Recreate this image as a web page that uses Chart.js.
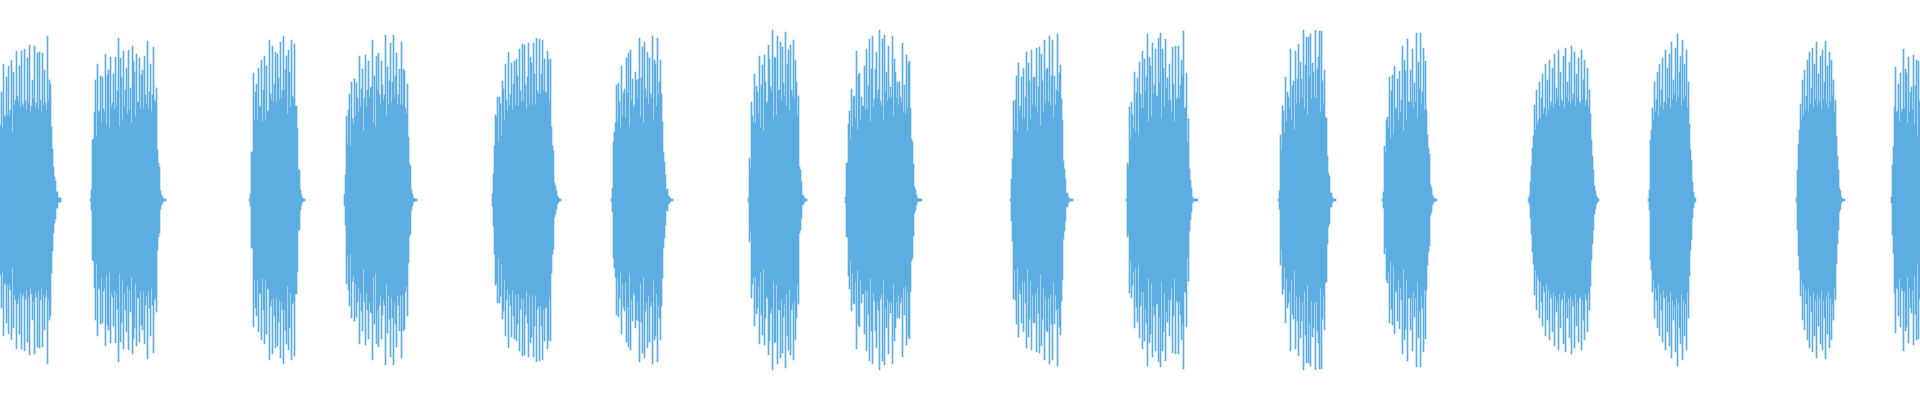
<!DOCTYPE html>
<html>
<head>
<meta charset="utf-8">
<title>Waveform</title>
<script src="https://cdn.jsdelivr.net/npm/chart.js@4.4.1/dist/chart.umd.min.js"></script>
<style>
  html, body { margin: 0; padding: 0; background: #ffffff; }
  #wrap { width: 1920px; height: 400px; position: relative; }
</style>
</head>
<body>
<div id="wrap"><canvas id="waveChart"></canvas></div>
<script>
// one amplitude per pixel column, the bars are drawn symmetric around zero
const totalColumns = 1920;

// first column of each burst
const burstStarts = [0, 90, 249, 344, 492, 611, 748, 845, 1010, 1126, 1278, 1382, 1528, 1648, 1796, 1891];

const burst01 = [75,108,72,136,84,83,123,85,134,84,90,140,67,128,95,100,149,104,98,134,92,149,96,93,151,99,90,142,97,155,88,94,120,101,154,92,97,147,90,148,100,88,147,95,130,97,90,164,100,120,116,73,51,33,23,19,8,8,2,2,2];
const burst02 = [1,10,60,61,88,120,64,136,88,89,124,78,123,91,87,146,75,125,130,72,143,93,97,126,90,143,94,109,162,73,142,123,79,149,93,110,132,86,150,90,112,77,154,139,128,83,146,98,97,142,91,125,130,91,144,105,96,159,90,108,136,88,105,153,100,97,112,50,37,33,9,5,3,1,1,1];
const burst03 = [1,6,48,48,127,80,108,116,80,132,94,92,140,78,110,144,80,134,88,89,160,106,100,154,98,116,148,98,146,122,100,158,102,110,164,110,130,144,86,150,128,93,160,104,102,156,94,94,72,30,30,10,5,2,1,1];
const burst04 = [6,25,84,56,90,106,54,118,81,76,121,84,117,102,88,144,93,111,131,69,102,145,93,110,139,102,112,113,160,77,124,73,144,110,147,105,96,139,115,99,105,165,84,133,95,119,157,97,118,165,102,124,147,95,105,131,95,158,94,131,129,92,86,116,63,36,34,10,6,2,1,1,1];
const burst05 = [6,26,54,85,82,103,58,103,96,64,119,111,80,136,100,89,148,94,105,137,90,116,139,94,141,124,94,151,109,98,156,98,155,115,91,123,157,95,143,137,95,157,126,96,162,109,106,161,106,126,160,110,141,108,107,149,140,97,141,73,54,49,17,14,9,4,2,1,1];
const burst06 = [1,12,58,68,77,115,78,117,98,72,134,83,107,111,82,142,107,147,73,150,99,121,92,95,128,120,102,121,162,83,122,153,77,158,111,102,148,95,142,106,102,164,80,140,136,94,162,106,118,140,106,78,48,38,25,10,11,4,3,1,1,1];
const burst07 = [2,42,31,98,84,77,126,77,114,108,86,144,72,115,135,69,145,118,96,98,155,141,113,108,170,81,143,142,85,164,110,110,158,99,153,117,103,168,94,136,150,89,155,110,104,160,102,140,118,84,104,33,30,18,5,4,2,1,1];
const burst08 = [3,37,37,76,89,61,111,73,103,104,81,149,70,125,127,80,103,94,94,134,90,151,90,114,161,78,131,164,93,101,131,148,102,110,170,99,94,161,79,165,108,128,99,154,102,113,102,164,84,141,128,102,118,95,118,103,97,157,88,115,86,145,92,137,139,92,61,58,36,13,10,5,2,1,1,1,1];
const burst09 = [1,21,41,99,70,100,124,68,137,89,94,123,81,132,81,103,148,69,137,119,80,150,95,122,123,93,152,87,113,153,74,146,119,88,160,97,130,132,98,164,94,124,160,82,124,95,110,166,108,127,135,101,80,39,31,21,6,7,3,1,1,1,1];
const burst10 = [1,37,33,93,61,98,85,71,128,68,107,122,65,138,106,92,149,92,141,109,123,166,78,143,134,83,157,106,115,151,104,103,162,117,167,81,151,132,93,161,112,122,99,136,100,87,153,116,78,154,100,102,154,101,115,140,124,169,92,92,127,58,81,31,20,12,3,1,1,1,1,1];
const burst11 = [1,9,65,49,94,89,67,123,78,108,103,91,151,80,114,119,70,149,96,121,156,96,138,121,102,170,91,135,163,85,163,123,166,101,137,128,102,170,102,131,143,169,88,169,119,96,130,82,82,44,27,24,7,7,3,1,1,1];
const burst12 = [1,8,54,48,80,83,72,123,61,109,125,65,134,92,90,121,80,129,87,100,154,69,140,129,79,161,98,98,130,98,151,92,117,98,167,81,138,111,167,95,108,152,90,139,90,65,52,46,15,12,5,3,1,1,1];
const burst13 = [1,4,18,34,52,64,95,70,110,76,80,118,82,102,126,86,92,136,84,120,90,140,94,98,132,92,146,96,112,102,150,94,128,100,98,144,92,152,102,118,98,138,96,154,100,106,148,94,126,102,142,98,96,150,100,120,140,94,100,132,92,110,86,60,44,30,14,9,4,2,1];
const burst14 = [1,10,60,70,92,80,118,88,100,128,84,136,94,110,142,90,98,150,96,132,102,146,92,158,100,120,106,152,98,166,102,128,144,94,160,100,136,104,150,92,118,76,50,40,18,8,3,1];
const burst15 = [2,30,56,70,96,80,120,84,130,90,104,140,88,148,96,112,152,92,136,100,158,94,126,98,144,90,150,100,118,159,96,134,92,148,98,140,104,120,88,100,64,44,30,12,9,3,1,1,1];
const burst16 = [3,35,53,93,133,87,89,116,78,127,88,91,151,91,131,127,77,143,88,108,113,90,145,75,114,140,64,139,99];

const bursts = [burst01, burst02, burst03, burst04, burst05, burst06, burst07, burst08,
                burst09, burst10, burst11, burst12, burst13, burst14, burst15, burst16];

// spread the bursts over the columns, silence elsewhere
const amplitudes = new Array(totalColumns).fill(null);
bursts.forEach((b, k) => {
    b.forEach((v, i) => { amplitudes[burstStarts[k] + i] = v; });
});

const labels = amplitudes.map((_, i) => i);

const ctx = document.getElementById('waveChart').getContext('2d');
const waveChart = new Chart(ctx, {
    type: 'bar',
    data: {
        labels: labels,
        datasets: [{
            label: 'amplitude',
            data: amplitudes.map(v => v === null ? null : [-v, v]), // floating bar min..max
            backgroundColor: '#5DADE2',
            borderWidth: 0,
            barPercentage: 1,
            categoryPercentage: 1
        }]
    },
    options: {
        responsive: true,
        maintainAspectRatio: false,
        animation: false,
        layout: { padding: 0 },
        plugins: {
            legend: { display: false },
            tooltip: { enabled: false }
        },
        scales: {
            x: { display: false },
            y: { display: false, min: -200, max: 200 }
        }
    }
});
</script>
</body>
</html>
